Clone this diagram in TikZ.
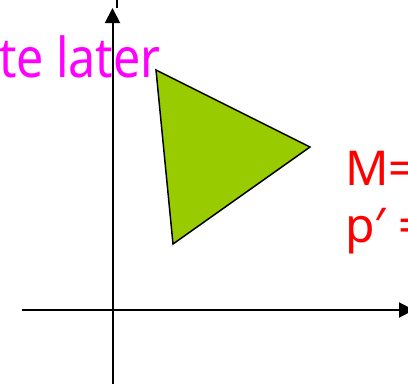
\documentclass[tikz,border=0pt]{standalone}
\usepackage{fontspec}
\setmainfont{Noto Sans}
\newfontfamily\narrowfont[FakeStretch=0.88]{Noto Sans}
\usetikzlibrary{arrows.meta,positioning}

\begin{document}
\begin{tikzpicture}[
x=1pt,y=-1pt,
axis/.style={-{Triangle[length=15pt,width=15pt]},line width=2pt},
note/.style={inner sep=0pt,font=\fontsize{48}{56}\selectfont},
tri/.style={draw,line width=1.5pt,fill=lime,line join=miter}
]
\useasboundingbox (0,0) rectangle (408,384);
\definecolor{lime}{HTML}{99CC00}
\definecolor{pink}{HTML}{FF00FF}
\definecolor{warn}{HTML}{FF0000}

% axes
\coordinate (xs) at (22,310);
\coordinate (xe) at (414,310);
\coordinate (ys) at (112.5,384);
\coordinate (ye) at (112.5,8);
\coordinate (yt) at (116.5,0);
\draw[axis] (xs) -- (xe);
\draw[axis] (ys) -- (ye);
\draw[line width=2pt] (ye -| yt) -- (yt);

% triangle
\coordinate (a) at (156,70);
\coordinate (b) at (310,147);
\coordinate (c) at (173,244);
\draw[tri] (a) -- (b) -- (c) -- cycle;

% labels
\node[note,text=pink,font=\narrowfont\fontsize{55}{60}\selectfont,anchor=base east] (later) at (161,77) {te later};
\node[note,text=warn,anchor=base west] (mat) at (345,185) {M=};
\node[note,text=warn,anchor=base west] (pnew) at (345,242) {p′ =};
\end{tikzpicture}
\end{document}
